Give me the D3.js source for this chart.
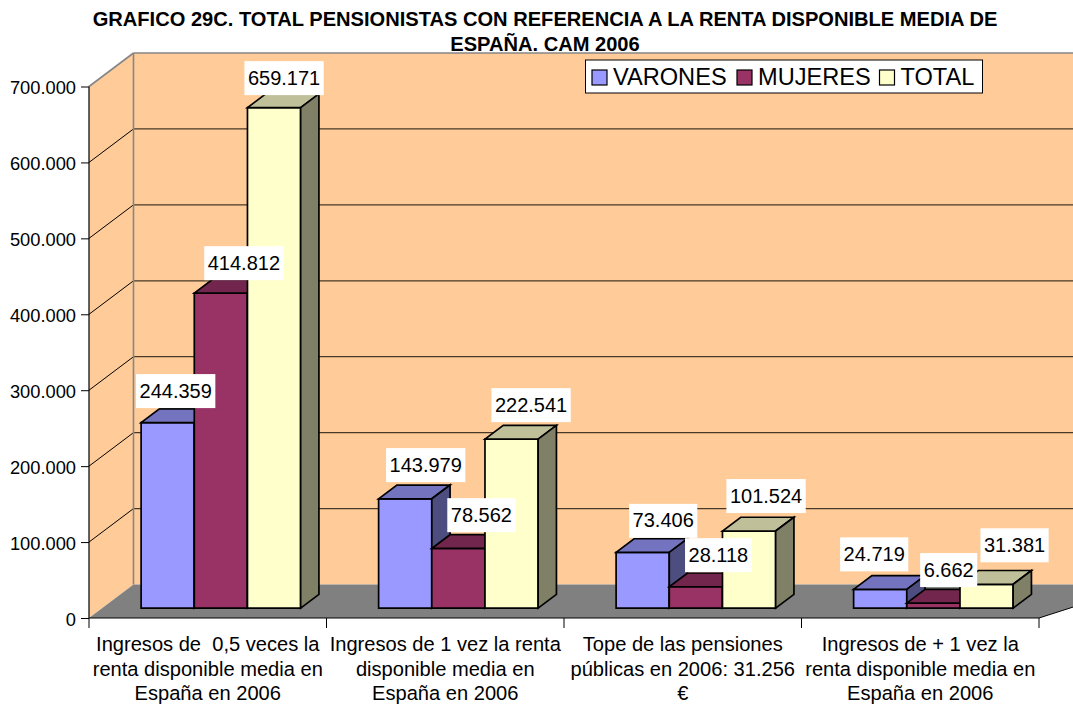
<!DOCTYPE html>
<html><head><meta charset="utf-8">
<script src="https://cdn.jsdelivr.net/npm/d3@7/dist/d3.min.js"></script>
<style>html,body{margin:0;padding:0;background:#fff}svg{display:block}text{font-family:"Liberation Sans",Arial,sans-serif;fill:#000}</style>
</head><body><svg id="c" width="1073" height="704"></svg>
<script>
const titleLines = ["GRAFICO 29C. TOTAL PENSIONISTAS CON REFERENCIA A LA RENTA DISPONIBLE MEDIA DE","ESPAÑA. CAM 2006"];
const categories = ["c1","c2","c3","c4"];
const categoryLines = [
 ["Ingresos de  0,5 veces la","renta disponible media en","España en 2006"],
 ["Ingresos de 1 vez la renta","disponible media en","España en 2006"],
 ["Tope de las pensiones","públicas en 2006: 31.256","€"],
 ["Ingresos de + 1 vez la","renta disponible media en","España en 2006"]];
const seriesNames = ["VARONES","MUJERES","TOTAL"];
const varones = [244359,143979,73406,24719];
const mujeres = [414812,78562,28118,6662];
const total = [659171,222541,101524,31381];
const seriesValues = [varones,mujeres,total];
const yTicks = [0,100000,200000,300000,400000,500000,600000,700000];
const fmt = v => d3.format(",")(v).replace(/,/g,".");

// layout (not data)
const labelNudge = [
 [[8,-31.5],[20.5,-33.7],[20.5,-31.5],[-6,-35]],
 [[23,-30],[23,-33.3],[22.5,-31.6],[15.3,-33]],
 [[10,-29.5],[19.5,-34],[17,-35],[28,-39]]];
const fills = [["#9999FF","#7373BF","#4D4D80"],["#993366","#73264D","#4D1A33"],["#FFFFCC","#BFBF99","#808066"]];
const legendX = [592,737,879.5];
const W=1073, depthX=44.5, depthY=33.5;

const svg=d3.select("#c");
const x=d3.scaleBand().domain(categories).range([89,1039]).paddingInner(0).paddingOuter(0);
const sx=d3.scaleBand().domain(seriesNames).range([0,x.bandwidth()]).paddingInner(0).paddingOuter(0.733);
const y=d3.scaleLinear().domain([0,700000]).range([618,86.5]);
const P=(px,v,d)=>[px+d*depthX, y(v)-d*depthY];
const poly=(pts,fill,stroke,sw)=>svg.append("polygon").attr("points",pts.map(p=>p.join(",")).join(" ")).attr("fill",fill).attr("stroke",stroke||"none").attr("stroke-width",sw||0);
const line=(a,b,col,w)=>svg.append("line").attr("x1",a[0]).attr("y1",a[1]).attr("x2",b[0]).attr("y2",b[1]).attr("stroke",col).attr("stroke-width",w);
const xL=89,xR=1039,maxV=700000;

// walls and floor
poly([P(xL,0,1),P(xR+60,0,1),P(xR+60,maxV,1),P(xL,maxV,1)],"#FFCC99");
poly([P(xL,0,0),P(xL,0,1),P(xL,maxV,1),P(xL,maxV,0)],"#FFCC99");
poly([P(xL,0,0),P(xL,0,1),P(xR+60,0,1),P(xR,0,0)],"#808080");
yTicks.filter(t=>t>0&&t<maxV).forEach(t=>{
  line(P(xL,t,0),P(xL,t,1),"#000",1);
  line(P(xL,t,1),P(xR+60,t,1),"#4a3826",1.3);
});
line(P(xL,maxV,0),P(xL,maxV,1),"#868686",1.6);
line(P(xL,maxV,1),P(xR+60,maxV,1),"#868686",1.6);
line(P(xL,0,1),P(xL,maxV,1),"#868686",1.6);

// axes
const yAxis=d3.axisLeft(y).tickValues(yTicks).tickFormat(fmt).tickSize(8).tickPadding(5);
const gy=svg.append("g").attr("transform",`translate(${xL},0)`).call(yAxis);
gy.selectAll("text").style("font-size","18.3px").style("font-family",'"Liberation Sans"').attr("fill","#000").attr("dy","0.39em");
gy.selectAll("line").attr("stroke","#000").attr("stroke-width",1);
gy.select(".domain").attr("stroke","#000").attr("stroke-width",1.2).attr("d",`M0,${y(0)}V${y(maxV)}`);
line(P(xL,0,0),P(xR,0,0),"#000",1.2);
line(P(xR,0,0),P(xR+60,0,1),"#000",1);
d3.range(5).forEach(i=>line([xL+i*x.step(),618],[xL+i*x.step(),628],"#000",1));

// bars
const front=.295, back=.706;
categories.forEach((c,i)=>{
  seriesNames.forEach((s,j)=>{
    const v=seriesValues[j][i], a=x(c)+sx(s), b=a+sx.bandwidth(), f=fills[j];
    poly([P(a,0,front),P(b,0,front),P(b,v,front),P(a,v,front)],f[0],"#000",1.7);
    poly([P(a,v,front),P(b,v,front),P(b,v,back),P(a,v,back)],f[1],"#000",1.7);
    poly([P(b,0,front),P(b,0,back),P(b,v,back),P(b,v,front)],f[2],"#000",1.7);
  });
});

// value labels
seriesNames.forEach((s,j)=>categories.forEach((c,i)=>{
  const v=seriesValues[j][i], n=labelNudge[j][i];
  const [fx,fy]=P(x(c)+sx(s)+sx.bandwidth()/2,v,front);
  const cx=fx+n[0], cy=fy+n[1], label=fmt(v);
  const t=svg.append("text").attr("x",cx).attr("y",cy+6.5).attr("text-anchor","middle").style("font-size","20px").text(label);
  const w=t.node().getComputedTextLength();
  svg.insert("rect",()=>t.node()).attr("x",cx-w/2-3.5).attr("y",cy-17).attr("width",w+7).attr("height",34).attr("fill","#fff");
}));

// category labels
categories.forEach((c,i)=>categoryLines[i].forEach((l,k)=>{
  svg.append("text").attr("x",x(c)+x.bandwidth()/2).attr("y",651+k*24.5).attr("text-anchor","middle").style("font-size","20.1px").style("white-space","pre").text(l);
}));

// title
titleLines.forEach((l,k)=>svg.append("text").attr("x",545).attr("y",26+k*25).attr("text-anchor","middle").style("font-size","20.1px").style("font-weight","bold").text(l));

// legend
svg.append("rect").attr("x",585.5).attr("y",60).attr("width",397).attr("height",33).attr("fill","#fff").attr("stroke","#000").attr("stroke-width",1);
seriesNames.forEach((s,j)=>{
  svg.append("rect").attr("x",legendX[j]).attr("y",70).attr("width",15).attr("height",15).attr("fill",fills[j][0]).attr("stroke","#000").attr("stroke-width",1.2);
  svg.append("text").attr("x",legendX[j]+21).attr("y",85).style("font-size","23.6px").text(s);
});
</script></body></html>
